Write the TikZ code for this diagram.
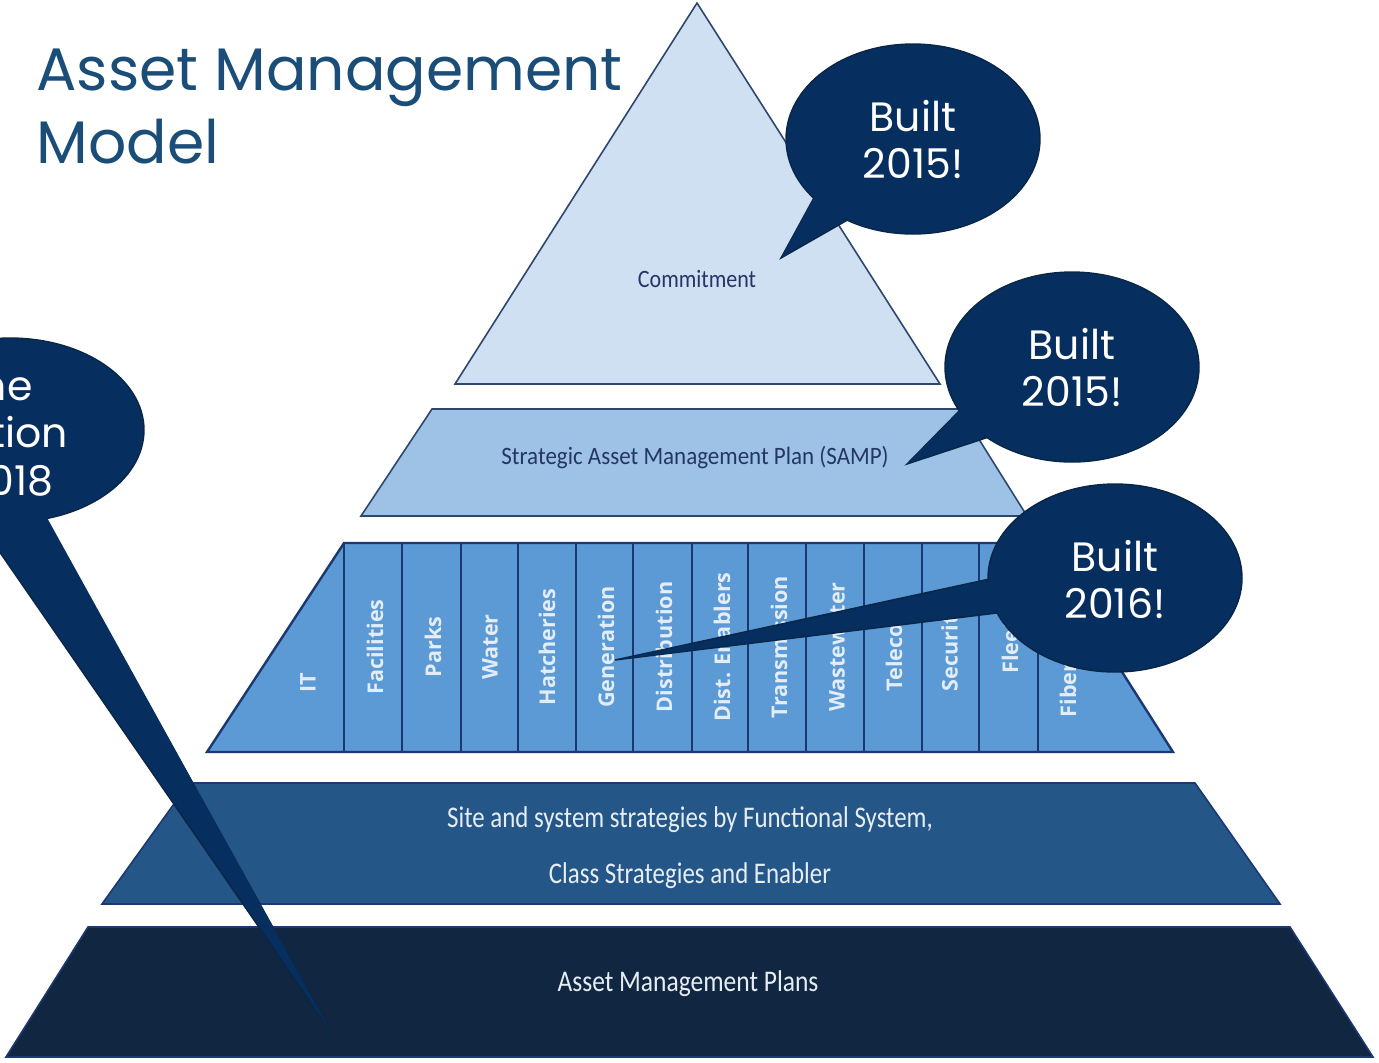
\documentclass[tikz,border=0pt]{standalone}
\usepackage{fontspec}
\setmainfont{Poppins}
\newfontfamily\calib{Carlito}
\newfontfamily\osans{Open Sans}
\definecolor{tierA}{HTML}{CFE0F2}
\definecolor{tierB}{HTML}{9DC2E6}
\definecolor{tierC}{HTML}{5B9AD5}
\definecolor{tierD}{HTML}{245687}
\definecolor{tierE}{HTML}{112641}
\definecolor{edgeA}{HTML}{2E4770}
\definecolor{edgeC}{HTML}{1C3872}
\definecolor{calloutfill}{HTML}{062E5E}
\definecolor{calloutline}{HTML}{0A2646}
\definecolor{titlecol}{HTML}{1A4D77}
\definecolor{darktext}{HTML}{243666}
\definecolor{lighttext}{HTML}{E6EDF5}
\definecolor{coltext}{HTML}{E3ECF7}
\begin{document}
\begin{tikzpicture}[x=0.5pt,y=-0.5pt,
  tierlabel/.style={font=\calib\fontsize{12.5}{14}\selectfont, text=darktext, inner sep=0pt},
  baselabel/.style={font=\calib\fontsize{15}{17}\selectfont, text=lighttext, inner sep=0pt},
  collabel/.style={font=\osans\bfseries\fontsize{10.8}{12}\selectfont, text=coltext, rotate=90, inner sep=0pt},
  bubble/.style={fill=calloutfill, draw=calloutline, line width=0.7pt},
  bubblefill/.style={fill=calloutfill},
  bubbletext/.style={font=\fontsize{20.5}{23.5}\selectfont, text=white, align=center, inner sep=0pt},
  titletext/.style={font=\fontsize{30}{34}\selectfont, text=titlecol, inner sep=0pt, anchor=base west}
]
\clip (0,0) rectangle (1379,1062);
\useasboundingbox (0,0) rectangle (1379,1062);

% ---------- Title ----------
\node[titletext] (title1) at (36,90) {Asset Management};
\node[titletext] (title2) at (36,163) {Model};

% ---------- Tier 1: Commitment ----------
\draw[fill=tierA, draw=edgeA, line width=0.8pt] (697,3) -- (940,384) -- (455,384) -- cycle;
\node[tierlabel] (commit) at (697,279) {\scalebox{0.88}[1]{Commitment}};

% ---------- Tier 2: SAMP ----------
\draw[fill=tierB, draw=edgeA, line width=0.8pt] (432,409) -- (960,409) -- (1027,516) -- (361,516) -- cycle;
\node[tierlabel] (samp) at (695,457) {\scalebox{0.92}[1]{Strategic Asset Management Plan (SAMP)}};

% ---------- Tier 3: functional columns ----------
\draw[fill=tierC, draw=edgeC, line width=1.2pt] (344,543) -- (1040,543) -- (1173,752) -- (207,752) -- cycle;
\foreach \xx in {344,402,461,518,576,633,692,748,806,864,922,979,1038}
  \draw[edgeC, line width=1.3pt] (\xx,543) -- (\xx,752);
\node[collabel] (cIT) at (308,683) {IT};
\node[collabel] (cFac) at (375,647) {Facilities};
\node[collabel] (cPar) at (433,647) {Parks};
\node[collabel] (cWat) at (490,647) {Water};
\node[collabel] (cHat) at (547,647) {Hatcheries};
\node[collabel] (cGen) at (606,647) {Generation};
\node[collabel] (cDis) at (664,647) {Distribution};
\node[collabel] (cDen) at (722,647) {Dist. Enablers};
\node[collabel] (cTra) at (779,647) {Transmission};
\node[collabel] (cWas) at (837,647) {Wastewater};
\node[collabel] (cTel) at (894,647) {Telecom};
\node[collabel] (cSec) at (952,647) {Security};
\node[collabel] (cFle) at (1010,647) {Fleet};
\node[collabel] (cFib) at (1068,690) {Fiber};

% ---------- Tier 4: strategies ----------
\draw[fill=tierD, draw=edgeC, line width=0.8pt] (189,783) -- (1195,783) -- (1280,904) -- (102,904) -- cycle;
\node[baselabel] (strat1) at (690,820) {\scalebox{0.83}[1]{Site and system strategies by Functional System,}};
\node[baselabel] (strat2) at (690,876) {\scalebox{0.83}[1]{Class Strategies and Enabler}};

% ---------- Tier 5: plans ----------
\draw[fill=tierE, draw=edgeC, line width=0.8pt] (88,927) -- (1290,927) -- (1373,1057) -- (6,1057) -- cycle;
\node[baselabel] (plans) at (688,984) {\scalebox{0.85}[1]{Asset Management Plans}};

% ---------- Callout 1 (Commitment) ----------
\coordinate (tipA) at (781,258);
\path[bubble] (816,194) -- (tipA) -- (851,218) -- cycle;
\path[bubble] (913,139) ellipse [x radius=127, y radius=95];
\path[bubblefill] (818,190) -- (tipA) -- (850,214) -- cycle;
\node[bubbletext] (bubA) at (913,140) {Built\\2015!};

% ---------- Callout 2 (SAMP) ----------
\coordinate (tipB) at (907,464);
\path[bubble] (963,407) -- (tipB) -- (992,436) -- cycle;
\path[bubble] (1072,367) ellipse [x radius=127, y radius=95];
\path[bubblefill] (966,404) -- (tipB) -- (994,432) -- cycle;
\node[bubbletext] (bubB) at (1072,368) {Built\\2015!};

% ---------- Callout 3 (functional columns) ----------
\coordinate (tipC) at (615,660);
\path[bubble] (994,578) -- (tipC) -- (1005,612) -- cycle;
\path[bubble] (1115,578) ellipse [x radius=127, y radius=94];
\path[bubblefill] (998,580) -- (tipC) -- (1008,609) -- cycle;
\node[bubbletext] (bubC) at (1115,580) {Built\\2016!};

% ---------- Callout 4 (left, cropped as in the reference) ----------
\coordinate (tipD) at (330,1030);
\path[bubble] (-28,512) -- (tipD) -- (42,512) -- cycle;
\path[bubble] (10,430) ellipse [x radius=134, y radius=92];
\path[bubblefill] (-26,505) -- (tipD) -- (40,505) -- cycle;
\node[bubbletext, anchor=base east] (bubD1) at (33,400) {Done};
\node[bubbletext, anchor=base east] (bubD2) at (68,447) {Completion};
\node[bubbletext, anchor=base east] (bubD3) at (54,495) {2018};
\end{tikzpicture}
\end{document}
